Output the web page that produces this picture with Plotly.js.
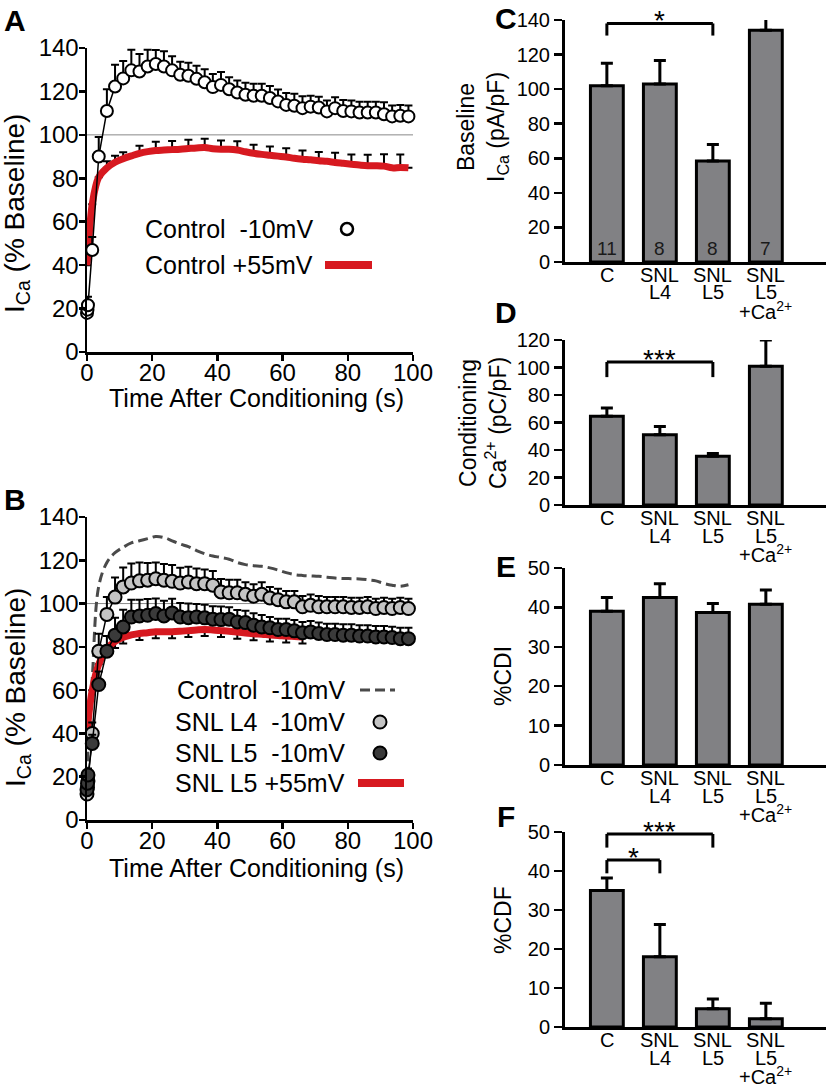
<!DOCTYPE html>
<html>
<head>
<meta charset="utf-8">
<script src="https://cdn.plot.ly/plotly-3.0.1.min.js"></script>
<style>
  body { margin: 0; background: #fff; }
  #plotArea { width: 826px; height: 1088px; }
</style>
</head>
<body>
<div id="plotArea"></div>
<script>
// ---- panel A / B time axis (s) ----
var timeA = [0, 0.15, 0.3, 1.6, 3.6, 6.1, 8.6, 11.1, 13.6, 16.1, 18.6, 21.1, 23.6, 26.1, 28.6, 31.1, 33.6, 36.1, 38.6, 41.1,
  43.6, 46.1, 48.6, 51.1, 53.6, 56.1, 58.6, 61.1, 63.6, 66.1, 68.6, 71.1, 73.6, 76.1, 78.6, 81.1, 83.6, 86.1, 88.6, 91.1,
  93.6, 96.1, 98.6];
var timeB = timeA;

// panel A: Control -10mV (circles) and Control +55mV (red line)
var ctrlA = [18, 19.5, 21.5, 47, 90, 111, 122.3, 126, 129.7, 129.2, 131.5, 132.6, 131.5, 129.7, 127.7, 127.2, 125.8, 124.2, 122, 123,
  121, 119.5, 118.5, 118, 118, 117, 115.4, 113.8, 113.4, 112.3, 113, 112.6, 110.8, 112.3, 111, 110.8, 110.3, 110.3, 110.3, 109.5,
  108.5, 108.8, 108.5];
var errCtrlA = [2, 3, 4, 6, 9, 10, 10, 8, 9.5, 8, 7.7, 6.5, 7, 6.5, 6, 6, 6, 6, 6, 6,
  5.5, 5.5, 5.5, 5.5, 5.5, 5.5, 5.5, 5.5, 5.5, 5.5, 5, 5, 5, 5, 5, 5, 5, 5, 5, 5.5,
  5, 5, 5];
var redA = [40, 43, 46, 68, 80.5, 84.8, 87.4, 89, 90.3, 91.5, 92.3, 92.8, 93, 93.2, 93.4, 93.7, 94, 94.2, 93.6, 93.4,
  93.4, 93, 92.2, 91.5, 91, 90.6, 90.2, 89.8, 89.2, 88.8, 88.5, 88.1, 87.8, 87.3, 86.9, 86.5, 86.1, 85.8, 85.8, 85.6,
  84.8, 85, 84.8];
var errRedA = [null, null, null, null, null, 3, 3, 3, null, 3.5, null, 4, null, 4, null, 4, null, 4, null, 4,
  null, 4, null, 4, null, 4, null, 4, null, 4, null, 4, null, 4.5, null, 4.5, null, 5, null, 5.5,
  null, 6, null];

// panel B
var ctrlB = [20, 28, 35, 65, 108, 119, 123.5, 126, 128, 129, 130, 131, 130.5, 129, 127.5, 126.3, 124.5, 123, 122, 121.3,
  120.5, 119, 118, 117.5, 117.2, 116.5, 115.5, 114.3, 113.4, 113, 112.8, 112.6, 112.2, 111.8, 111.6, 111.5, 111.4, 111, 110.5, 109.3,
  108.5, 108, 108.7];
var l4B = [12, 15, 18, 40, 78, 95, 103, 107.7, 109.5, 110.5, 110.8, 111.5, 110.8, 110.3, 109.5, 110, 109.2, 109.2, 108.5, 105.4,
  105, 105, 104.3, 103.4, 104.3, 102.6, 101.8, 100.8, 100.8, 98.5, 99.2, 98.5, 98.5, 98.5, 98.5, 98.2, 98.2, 98.5, 97.7, 98.2,
  97.7, 98.2, 97.7];
var errL4B = [2, 2, 3, 5, 8, 8, 9, 9, 9, 8.5, 8, 7.5, 7.5, 7.5, 7, 7, 7, 6.5, 6.5, 6,
  6, 6, 5.5, 5.5, 5.5, 5, 5, 5, 5, 5, 5, 5, 4.5, 4.5, 4.5, 4.5, 4.5, 4.5, 4.5, 4.5,
  4.5, 4.5, 4.5];
var l5B = [14, 17, 20.8, 35.4, 62.6, 78, 85.4, 89.2, 93.8, 94.3, 94.6, 95.4, 94.3, 95.7, 93.8, 93.5, 93.8, 93.4, 92.8, 92.6,
  92.8, 91.5, 91.2, 90, 89.2, 88.8, 88, 88, 87.4, 86.5, 86.9, 86.2, 85.7, 85.7, 85.4, 85.4, 85, 85, 84.6, 84.6,
  84.3, 83.8, 83.8];
var errL5B = [2, 2, 3, 4, 6, 7, 8, 8, 8, 7.5, 7.5, 7, 7, 6.5, 6.5, 6.5, 6, 6, 6, 6,
  5.5, 5.5, 5.5, 5.5, 5.5, 5, 5, 5, 5, 5, 5, 5, 5, 5, 5, 5, 5, 5, 5, 5,
  5, 5, 5];
var redB = [40, 42, 45, 60, 72, 79, 82.5, 84.5, 85.5, 86.2, 86.5, 87, 87, 87, 87.2, 87.5, 87.8, 88, 87.8, 87.5,
  87.2, 86.8, 86.4, 86, 85.8, 85.5, 85.3, 85, 84.8, 84.6];
var errRedB = [null, null, null, null, null, 3, 3, 3, null, 3, null, 3, null, 3, null, 3, null, 3, null, 3,
  null, 3, null, 3, null, 3, null, 3, null, 3];

// ---- bar panels C-F ----
var categories = ['C', 'SNL L4', 'SNL L5', 'SNL L5 +Ca2+'];
var catLabels = ['C', 'SNL<br>L4', 'SNL<br>L5', 'SNL<br>L5<br>+Ca<sup>2+</sup>'];
var baseline = [102, 103, 58.5, 134];
var errBaseline = [13, 13.5, 9.5, 10.5];
var nCells = ['11', '8', '8', '7'];
var condCa = [64.5, 51, 35.5, 101];
var errCondCa = [6, 6, 2, 19];
var cdi = [39, 42.5, 38.7, 40.8];
var errCdi = [3.5, 3.5, 2.3, 3.6];
var cdf = [35, 18, 4.7, 2.1];
var errCdf = [3.2, 8.3, 2.5, 4];

var RED = '#d71920';
var FONT = 'Liberation Sans, Arial, Helvetica, sans-serif';
var W = 826, H = 1088;
function px(x) { return x / W; }
function py(y) { return 1 - y / H; }
function zeros(a) { return a.map(function () { return 0; }); }

function upErr(arr, th, w) {
  return {type: 'data', array: arr, arrayminus: zeros(arr), symmetric: false, color: '#000', thickness: th, width: w};
}

var data = [];
// A
data.push({x: timeA, y: redA, mode: 'lines', line: {color: RED, width: 7, shape: 'spline'},
  error_y: upErr(errRedA, 2, 4), xaxis: 'x', yaxis: 'y', cliponaxis: false});
data.push({x: timeA, y: ctrlA, mode: 'lines+markers', line: {color: '#000', width: 1.5},
  marker: {size: 12, color: '#fff', line: {color: '#000', width: 2}},
  error_y: upErr(errCtrlA, 2, 4), xaxis: 'x', yaxis: 'y', cliponaxis: false});
// B
data.push({x: timeB, y: ctrlB, mode: 'lines', line: {color: '#4a4a4a', width: 3, dash: '10px,5px', shape: 'spline'},
  xaxis: 'x2', yaxis: 'y2', cliponaxis: false});
data.push({x: timeB.slice(0, redB.length), y: redB, mode: 'lines', line: {color: RED, width: 7, shape: 'spline'},
  error_y: {type: 'data', array: zeros(redB), arrayminus: errRedB, symmetric: false, color: '#000', thickness: 2, width: 4},
  xaxis: 'x2', yaxis: 'y2', cliponaxis: false});
data.push({x: timeB, y: l4B, mode: 'lines+markers', line: {color: '#000', width: 1.5},
  marker: {size: 13, color: '#c4c4c4', line: {color: '#000', width: 2}},
  error_y: upErr(errL4B, 2, 4), xaxis: 'x2', yaxis: 'y2', cliponaxis: false});
data.push({x: timeB, y: l5B, mode: 'lines+markers', line: {color: '#000', width: 1.5},
  marker: {size: 13, color: '#3a3a3a', line: {color: '#000', width: 2}},
  error_y: upErr(errL5B, 2, 4), xaxis: 'x2', yaxis: 'y2', cliponaxis: false});

// bars
function barTrace(vals, errs, n) {
  return {x: categories, y: vals, type: 'bar', width: 0.62,
    marker: {color: '#818184', line: {color: '#000', width: 3}},
    error_y: upErr(errs, 3, 6), xaxis: 'x' + n, yaxis: 'y' + n, cliponaxis: false};
}
data.push(barTrace(baseline, errBaseline, 3));
data.push(barTrace(condCa, errCondCa, 4));
data.push(barTrace(cdi, errCdi, 5));
data.push(barTrace(cdf, errCdf, 6));

// axes
function lineX(yanchor) {
  return {domain: [px(87), px(413)], range: [0, 100], dtick: 20, tick0: 0, anchor: yanchor,
    showline: true, linewidth: 2.5, linecolor: '#000', ticks: 'outside', ticklen: 6, tickwidth: 2.5, tickcolor: '#000',
    ticklabelstandoff: -8,
    showgrid: false, zeroline: false, tickfont: {family: FONT, size: 24, color: '#000'}};
}
function lineY(bot, top, xanchor) {
  return {domain: [py(bot), py(top)], range: [0, 140], dtick: 20, tick0: 0, anchor: xanchor,
    showline: true, linewidth: 2.5, linecolor: '#000', ticks: 'outside', ticklen: 6, tickwidth: 2.5, tickcolor: '#000',
    ticklabelstandoff: -5,
    showgrid: false, zeroline: false, tickfont: {family: FONT, size: 24, color: '#000'}};
}
function barX(yanchor) {
  return {domain: [px(565), 1], range: [-0.79, 4.135], type: 'category', anchor: yanchor,
    showline: true, linewidth: 3, linecolor: '#000', ticks: '', showticklabels: false,
    showgrid: false, zeroline: false};
}
function barY(bot, top, max, dt, xanchor) {
  return {domain: [py(bot), py(top)], range: [0, max], dtick: dt, tick0: 0, anchor: xanchor,
    showline: true, linewidth: 3, linecolor: '#000', ticks: 'outside', ticklen: 8, tickwidth: 2.5, tickcolor: '#000',
    showgrid: false, zeroline: false, tickfont: {family: FONT, size: 20, color: '#000'}};
}

var annotations = [];
var shapes = [];
function txt(x, y, text, size, opts) {
  var a = {xref: 'paper', yref: 'paper', x: px(x), y: py(y), text: text, showarrow: false,
    font: {family: FONT, size: size, color: '#000'}, xanchor: 'center', yanchor: 'middle'};
  for (var k in opts) a[k] = opts[k];
  annotations.push(a);
}

// panel letters
txt(15, 20, '<b>A</b>', 30);
txt(15, 500, '<b>B</b>', 30);
txt(506, 19, '<b>C</b>', 30);
txt(506, 313, '<b>D</b>', 30);
txt(506, 566, '<b>E</b>', 30);
txt(506, 816, '<b>F</b>', 30);

// titles A/B
txt(17, 214, 'I<sub>Ca</sub> (% Baseline)', 28, {textangle: -90});
txt(17, 688, 'I<sub>Ca</sub> (% Baseline)', 28, {textangle: -90});
txt(256, 398, 'Time After Conditioning (s)', 25);
txt(256, 868, 'Time After Conditioning (s)', 25);

// titles C-F
txt(483, 127, 'Baseline<br>I<sub>Ca</sub> (pA/pF)', 23, {textangle: -90});
txt(483, 423, 'Conditioning<br>Ca<sup>2+</sup> (pC/pF)', 23, {textangle: -90});
txt(503, 676, '%CDI', 23, {textangle: -90});
txt(503, 920, '%CDF', 23, {textangle: -90});

// legend A
txt(315, 229, 'Control  -10mV', 25, {xanchor: 'right'});
txt(315, 265, 'Control +55mV', 25, {xanchor: 'right'});
shapes.push({type: 'circle', xref: 'paper', yref: 'paper', x0: px(341), x1: px(353), y0: py(235), y1: py(223),
  fillcolor: '#fff', line: {color: '#000', width: 2.5}});
shapes.push({type: 'line', xref: 'paper', yref: 'paper', x0: px(325), x1: px(372), y0: py(265), y1: py(265),
  line: {color: RED, width: 8}});

// legend B
txt(347, 690, 'Control  -10mV', 25, {xanchor: 'right'});
txt(347, 722, 'SNL L4  -10mV', 25, {xanchor: 'right'});
txt(347, 753, 'SNL L5  -10mV', 25, {xanchor: 'right'});
txt(347, 783, 'SNL L5 +55mV', 25, {xanchor: 'right'});
shapes.push({type: 'line', xref: 'paper', yref: 'paper', x0: px(360), x1: px(395), y0: py(690), y1: py(690),
  line: {color: '#4a4a4a', width: 3, dash: '10px,5px'}});
shapes.push({type: 'circle', xref: 'paper', yref: 'paper', x0: px(373.5), x1: px(386.5), y0: py(728.5), y1: py(715.5),
  fillcolor: '#c4c4c4', line: {color: '#000', width: 2}});
shapes.push({type: 'circle', xref: 'paper', yref: 'paper', x0: px(373.5), x1: px(386.5), y0: py(759.5), y1: py(746.5),
  fillcolor: '#3a3a3a', line: {color: '#000', width: 2}});
shapes.push({type: 'line', xref: 'paper', yref: 'paper', x0: px(358), x1: px(404), y0: py(783), y1: py(783),
  line: {color: RED, width: 8}});

// 100% reference lines
['', '2'].forEach(function (n) {
  shapes.push({type: 'line', xref: 'x' + n, yref: 'y' + n, x0: 0, x1: 100, y0: 100, y1: 100,
    line: {color: '#888', width: 1}, layer: 'below'});
});

// category labels under bar panels
var barAxisPix = {3: 262, 4: 505, 5: 765, 6: 1027};
Object.keys(barAxisPix).forEach(function (n) {
  catLabels.forEach(function (lab, i) {
    lab.split('<br>').forEach(function (line, k) {
      annotations.push({xref: 'x' + n, yref: 'paper', x: i, y: py(barAxisPix[n] + 13 + 17.5 * k), text: line,
        showarrow: false, xanchor: 'center', yanchor: 'middle', borderpad: 0,
        font: {family: FONT, size: 20, color: '#000'}});
    });
  });
});

// n numbers in panel C
nCells.forEach(function (t, i) {
  annotations.push({xref: 'x3', yref: 'y3', x: i, y: 8, text: t, showarrow: false,
    xanchor: 'center', yanchor: 'middle', font: {family: FONT, size: 19, color: '#1a1a1a'}});
});

// significance brackets
function bracket(n, i0, i1, yTop, yLeg) {
  var l = {color: '#000', width: 3};
  shapes.push({type: 'line', xref: 'x' + n, yref: 'y' + n, x0: i0, x1: i1, y0: yTop, y1: yTop, line: l});
  shapes.push({type: 'line', xref: 'x' + n, yref: 'y' + n, x0: i0, x1: i0, y0: yLeg, y1: yTop, line: l});
  shapes.push({type: 'line', xref: 'x' + n, yref: 'y' + n, x0: i1, x1: i1, y0: yLeg, y1: yTop, line: l});
}
function star(n, xc, yPix, text) {
  annotations.push({xref: 'x' + n, yref: 'paper', x: xc, y: py(yPix), text: text, showarrow: false,
    xanchor: 'center', yanchor: 'middle', font: {family: FONT, size: 28, color: '#000'}});
}
bracket(3, 0, 2, 138, 131);
star(3, 1, 20, '*');
bracket(4, 0, 2, 104, 93);
star(4, 1, 359, '***');
bracket(6, 0, 2, 49.5, 46);
star(6, 1, 831, '***');
bracket(6, 0, 1, 42.8, 39.4);
star(6, 0.5, 857, '*');

var layout = {
  width: W, height: H, margin: {l: 0, r: 0, t: 0, b: 0}, showlegend: false,
  paper_bgcolor: '#fff', plot_bgcolor: 'rgba(0,0,0,0)', font: {family: FONT, color: '#000'},
  xaxis: lineX('y'), yaxis: lineY(352, 48, 'x'),
  xaxis2: lineX('y2'), yaxis2: lineY(820, 517, 'x2'),
  xaxis3: barX('y3'), yaxis3: barY(262, 20, 140, 20, 'x3'),
  xaxis4: barX('y4'), yaxis4: barY(505, 340, 120, 20, 'x4'),
  xaxis5: barX('y5'), yaxis5: barY(765, 568, 50, 10, 'x5'),
  xaxis6: barX('y6'), yaxis6: barY(1027, 832, 50, 10, 'x6'),
  annotations: annotations, shapes: shapes, bargap: 0.38
};

Plotly.newPlot('plotArea', data, layout, {staticPlot: true});
</script>
</body>
</html>
